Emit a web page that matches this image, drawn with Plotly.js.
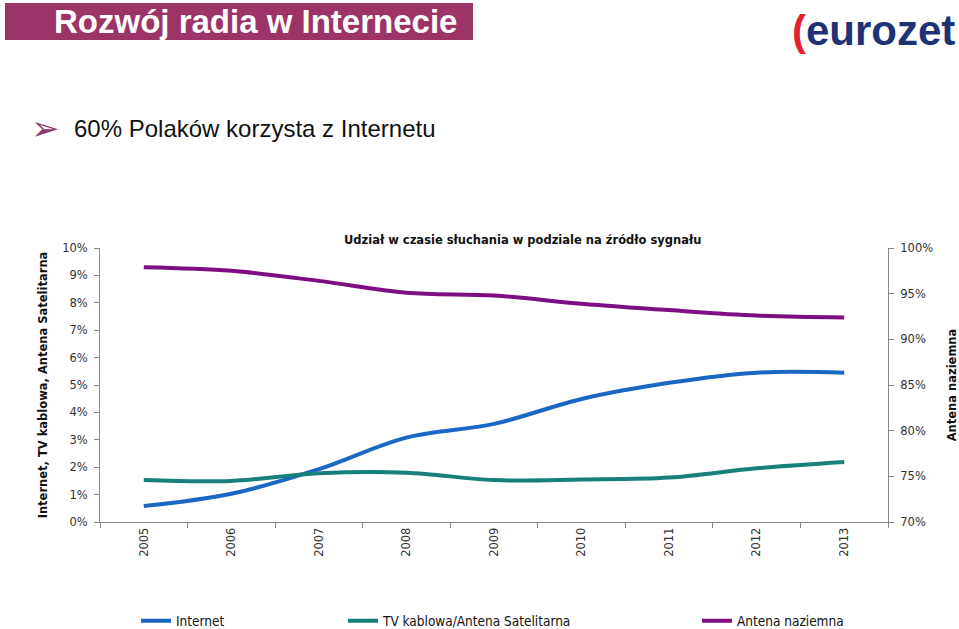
<!DOCTYPE html>
<html>
<head>
<meta charset="utf-8">
<script src="https://cdn.plot.ly/plotly-3.0.1.min.js"></script>
<style>html,body{margin:0;padding:0;background:#fff;}#chart{width:959px;height:629px;}</style>
</head>
<body>
<div id="chart"></div>
<script>
const years = ['2005','2006','2007','2008','2009','2010','2011','2012','2013'];
const internet = [0.58, 1.03, 1.93, 3.08, 3.58, 4.49, 5.08, 5.45, 5.45];
const tvKablowa = [1.53, 1.50, 1.78, 1.80, 1.53, 1.55, 1.62, 1.96, 2.19];
const antenaNaziemna = [97.9, 97.5, 96.4, 95.1, 94.8, 93.9, 93.2, 92.6, 92.4];
const leftTicks = [0,1,2,3,4,5,6,7,8,9,10];
const rightTicks = [70,75,80,85,90,95,100];

const L = 100, R = 888, T = 248, B = 522;
const W = 959, H = 629;
const px = x => (x - L) / (R - L);
const py = y => (B - y) / (B - T);

const tickFont = {family: 'DejaVu Sans, Verdana, sans-serif', size: 11.5, color: '#333'};
const axTitleFont = {family: 'DejaVu Sans, Verdana, sans-serif', size: 11.5, color: '#111', weight: 'bold'};
const legFont = {family: 'DejaVu Sans Condensed, DejaVu Sans, sans-serif', size: 13.5, color: '#111'};

const traces = [
  {x: years, y: internet, name: 'Internet', type: 'scatter', mode: 'lines',
   line: {color: '#1a68c4', width: 4, shape: 'spline'}, yaxis: 'y', legend: 'legend'},
  {x: years, y: tvKablowa, name: 'TV kablowa/Antena Satelitarna', type: 'scatter', mode: 'lines',
   line: {color: '#17807a', width: 4, shape: 'spline'}, yaxis: 'y', legend: 'legend2'},
  {x: years, y: antenaNaziemna, name: 'Antena naziemna', type: 'scatter', mode: 'lines',
   line: {color: '#7d0f80', width: 4, shape: 'spline'}, yaxis: 'y2', legend: 'legend3'}
];

function legendAt(x) {
  return {xref: 'container', yref: 'container', x: x / W, y: 1 - 621 / H,
          xanchor: 'left', yanchor: 'middle', orientation: 'h',
          font: legFont, bgcolor: 'rgba(0,0,0,0)', itemwidth: 30, tracegroupgap: 0};
}

const layout = {
  width: W, height: H,
  margin: {l: L, r: W - R, t: T, b: H - B, pad: 0, autoexpand: false},
  paper_bgcolor: '#fff', plot_bgcolor: '#fff',
  showlegend: true,
  legend: legendAt(136),
  legend2: legendAt(343),
  legend3: legendAt(697),
  xaxis: {
    type: 'category', range: [-0.5, 8.5], tickson: 'boundaries',
    showline: true, linecolor: '#888', linewidth: 1, ticks: 'outside', ticklen: 5, tickcolor: '#888',
    tickangle: -90, tickfont: tickFont, showgrid: false, zeroline: false, fixedrange: true
  },
  yaxis: {
    range: [0, 10], tickvals: leftTicks, ticktext: leftTicks.map(v => v + '%'),
    showline: true, linecolor: '#888', linewidth: 1, ticks: 'outside', ticklen: 5, tickcolor: '#888',
    tickfont: tickFont, showgrid: false, zeroline: false, ticklabelstandoff: 4,
    title: {text: 'Internet, TV kablowa, Antena Satelitarna', font: axTitleFont, standoff: 12}
  },
  yaxis2: {
    overlaying: 'y', side: 'right', range: [70, 100],
    tickvals: rightTicks, ticktext: rightTicks.map(v => v + '%'),
    showline: true, linecolor: '#888', linewidth: 1, ticks: 'outside', ticklen: 5, tickcolor: '#888',
    tickfont: tickFont, showgrid: false, zeroline: false, ticklabelstandoff: 4,
    title: {text: 'Antena naziemna', font: axTitleFont, standoff: 16}
  },
  shapes: [
    {type: 'rect', xref: 'paper', yref: 'paper', x0: px(5), x1: px(473), y0: py(40), y1: py(3),
     fillcolor: '#9c3468', line: {width: 0}, layer: 'below'}
  ],
  annotations: [
    {text: '<b>Rozwój radia w Internecie</b>', xref: 'paper', yref: 'paper', x: px(255), y: py(21),
     xanchor: 'center', yanchor: 'middle', showarrow: false,
     font: {family: 'Liberation Sans, Arial, sans-serif', size: 33, color: '#fff'}},
    {text: '<b><span style="color:#e3212d">(</span>eurozet</b>', xref: 'paper', yref: 'paper', x: px(873), y: py(31),
     xanchor: 'center', yanchor: 'middle', showarrow: false,
     font: {family: 'Liberation Sans, Arial, sans-serif', size: 42, color: '#1e3275'}},
    {text: '➢', xref: 'paper', yref: 'paper', x: px(45), y: py(128),
     xanchor: 'center', yanchor: 'middle', showarrow: false,
     font: {family: 'DejaVu Sans, sans-serif', size: 34, color: '#8e3a6e'}},
    {text: '60% Polaków korzysta z Internetu', xref: 'paper', yref: 'paper', x: px(72), y: py(128),
     xanchor: 'left', yanchor: 'middle', showarrow: false,
     font: {family: 'Liberation Sans, Arial, sans-serif', size: 24, color: '#111'}},
    {text: '<b>Udział w czasie słuchania w podziale na źródło sygnału</b>', xref: 'paper', yref: 'paper',
     x: px(522), y: py(240), xanchor: 'center', yanchor: 'middle', showarrow: false,
     font: {family: 'DejaVu Sans, Verdana, sans-serif', size: 11.5, color: '#111'}}
  ]
};

Plotly.newPlot('chart', traces, layout, {displayModeBar: false, staticPlot: true});
</script>
</body>
</html>
